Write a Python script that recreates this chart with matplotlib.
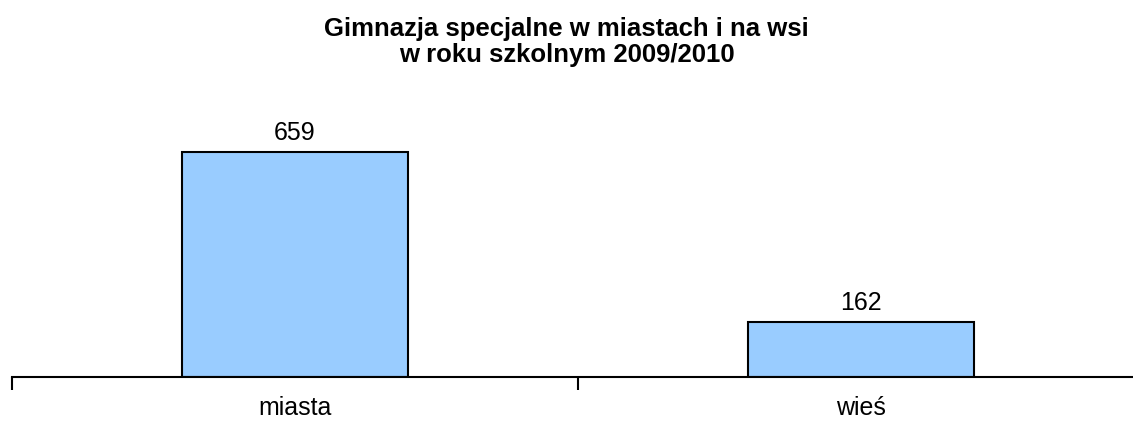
import matplotlib
matplotlib.use('Agg')
import matplotlib.pyplot as plt
import numpy as np

categories = ['miasta', 'wieś']
values = [659, 162]
title = 'Gimnazja specjalne w miastach i na wsi\nw roku szkolnym 2009/2010'

plt.rcParams['font.family'] = ['Liberation Sans', 'DejaVu Sans']

fig = plt.figure(figsize=(11.33, 4.25), dpi=100)
W, H = 1133.0, 425.0
# axis spans from x=12 to x=1144 (right edge is cut off), baseline at y=377
ax = fig.add_axes([12 / W, (H - 377) / H, 1132 / W, (377 - 104) / H])

x = np.arange(len(categories))
ax.bar(x, values, width=0.4, color='#99CCFF', edgecolor='black', linewidth=1.5)
for xi, v in zip(x, values):
    ax.text(xi, v + 20, str(v), ha='center', va='bottom', fontsize=18)

ax.set_xlim(-0.5, 1.5)
ax.set_ylim(0, 800)
ax.set_xticks([-0.5, 0.5, 1.5])
ax.set_xticklabels([])
ax.set_xticks(x, minor=True)
ax.set_xticklabels(categories, minor=True, fontsize=18)
ax.tick_params(axis='x', which='major', length=9, width=1.5, direction='out')
ax.tick_params(axis='x', which='minor', length=0, pad=14)
ax.set_yticks([])
for s in ['top', 'right', 'left']:
    ax.spines[s].set_visible(False)
ax.spines['bottom'].set_linewidth(1.5)

fig.text(0.5, 1 - 42 / H, title, ha='center', va='center', fontsize=18.5,
         fontweight='bold', linespacing=1.1)

fig.savefig('out.png', dpi=100)
